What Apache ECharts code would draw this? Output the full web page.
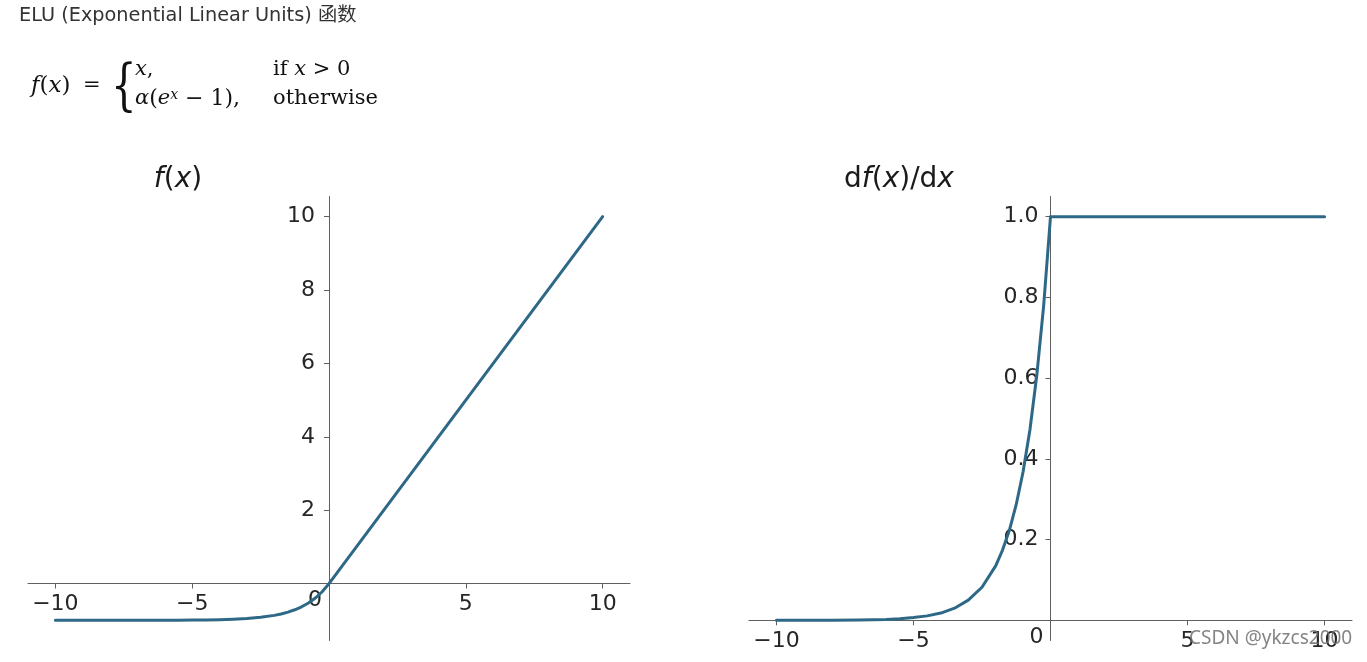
<!DOCTYPE html>
<html>
<head>
<meta charset="utf-8">
<script src="https://cdn.jsdelivr.net/npm/echarts@6/dist/echarts.min.js"></script>
<style>
html,body{margin:0;padding:0;background:#fff;}
#c{width:1367px;height:662px;}
</style>
</head>
<body>
<div id="c"></div>
<script>
// ---- data ----
const headerText = 'ELU (Exponential Linear Units) 函数';
const watermark = 'CSDN @ykzcs2000';
const xs = [-10, -9, -8, -7, -6, -5.5, -5, -4.5, -4, -3.5, -3, -2.5, -2, -1.75, -1.5, -1.25, -1, -0.75, -0.5, -0.25, 0, 10];
const fVals = [-1, -1, -1, -1, -0.998, -0.996, -0.993, -0.989, -0.982, -0.97, -0.95, -0.918, -0.865, -0.826, -0.777, -0.713, -0.632, -0.528, -0.393, -0.221, 0, 10];
const dfVals = [0, 0, 0, 0.001, 0.002, 0.004, 0.007, 0.011, 0.018, 0.03, 0.05, 0.082, 0.135, 0.174, 0.223, 0.287, 0.368, 0.472, 0.607, 0.779, 1, 1];
const xTicks = [-10, -5, 0, 5, 10];
const fTicks = [2, 4, 6, 8, 10];
const dfTicks = [0.2, 0.4, 0.6, 0.8, 1.0];

const LINE = '#2d6987';
const AX = '#606060';
const LBL = '#262626';
const SANS = 'DejaVu Sans';
const SERIF = 'DejaVu Serif';

function minus(v, d) {
  const s = d == null ? String(Math.abs(v)) : Math.abs(v).toFixed(d);
  return v < 0 ? '\u2212' + s : s;
}

function xAxisCfg(idx, offset) {
  return {
    type: 'value', gridIndex: idx, min: -11, max: 11, position: 'bottom', offset: offset,
    splitLine: {show: false},
    axisLine: {onZero: false, lineStyle: {color: AX, width: 1}},
    axisTick: {customValues: xTicks, length: 5, lineStyle: {color: AX}},
    axisLabel: {
      customValues: xTicks, margin: 10, fontFamily: SANS, fontSize: 22, color: LBL,
      formatter: v => v === 0 ? '{z|0}' : minus(v),
      rich: {z: {fontFamily: SANS, fontSize: 22, color: LBL, padding: [0, 28, 0, 0], lineHeight: 14}}
    }
  };
}
function yAxisCfg(idx, min, max, ticks, dec, margin, offset) {
  return {
    type: 'value', gridIndex: idx, min: min, max: max, position: 'left', offset: offset,
    splitLine: {show: false},
    axisLine: {onZero: false, lineStyle: {color: AX, width: 1}},
    axisTick: {customValues: ticks, length: 5, lineStyle: {color: AX}},
    axisLabel: {
      customValues: ticks, margin: margin, fontFamily: SANS, fontSize: 22, color: LBL,
      formatter: v => minus(v, dec)
    }
  };
}

const chart = echarts.init(document.getElementById('c'), null, {renderer: 'canvas'});

const ital = {fontFamily: SERIF, fontStyle: 'italic', fontSize: 21, fill: '#111'};
const italBig = {fontFamily: SERIF, fontStyle: 'italic', fontSize: 23, fill: '#111'};
const up = {fontFamily: SERIF, fontSize: 21, fill: '#111'};
const upBig = {fontFamily: SERIF, fontSize: 23, fill: '#111'};
const tIt = {fontFamily: SANS, fontStyle: 'italic', fontSize: 28, fill: '#1a1a1a'};
const tUp = {fontFamily: SANS, fontSize: 28, fill: '#1a1a1a'};

chart.setOption({
  animation: false,
  backgroundColor: '#fff',
  grid: [
    {left: 28, top: 196.5, width: 602, height: 444, containLabel: false, outerBoundsMode: 'none'},
    {left: 749, top: 196.5, width: 603, height: 444, containLabel: false, outerBoundsMode: 'none'}
  ],
  xAxis: [xAxisCfg(0, -57), xAxisCfg(1, -20.2)],
  yAxis: [
    yAxisCfg(0, -1.55, 10.55, fTicks, null, 14, -301),
    yAxisCfg(1, -0.05, 1.05, dfTicks, 1, 12, -301.5)
  ],
  series: [
    {type: 'line', xAxisIndex: 0, yAxisIndex: 0, showSymbol: false, silent: true,
     data: xs.map((x, i) => [x, fVals[i]]), lineStyle: {color: LINE, width: 3, join: 'round', cap: 'round'}},
    {type: 'line', xAxisIndex: 1, yAxisIndex: 1, showSymbol: false, silent: true,
     data: xs.map((x, i) => [x, dfVals[i]]), lineStyle: {color: LINE, width: 3, join: 'round', cap: 'round'}}
  ],
  graphic: [
    {type: 'text', x: 19, y: 16, style: {text: headerText, fontFamily: SANS + ', Noto Sans CJK SC', fontSize: 19.3, fill: '#333', verticalAlign: 'middle', textVerticalAlign: 'middle'}},
    // formula
    {type: 'text', x: 31, y: 86, style: {text: '{i|f}{u|(}{i|x}{u|)}', rich: {i: italBig, u: upBig}, verticalAlign: 'middle', textVerticalAlign: 'middle'}},
    {type: 'text', x: 83, y: 86, style: {text: '=', font: '21px "DejaVu Serif"', fill: '#111', verticalAlign: 'middle', textVerticalAlign: 'middle'}},
    {type: 'text', x: 111, y: 89, scaleX: 0.72, style: {text: '{', font: '56px "DejaVu Serif"', fill: '#111', verticalAlign: 'middle', textVerticalAlign: 'middle'}},
    {type: 'text', x: 135, y: 70, style: {text: '{i|x}{u|,}', rich: {i: ital, u: up}, verticalAlign: 'middle', textVerticalAlign: 'middle'}},
    {type: 'text', x: 273, y: 70, style: {text: '{u|if }{i|x}{u| > 0}', rich: {i: ital, u: up}, verticalAlign: 'middle', textVerticalAlign: 'middle'}},
    {type: 'text', x: 135, y: 99, style: {text: '{i|α}{u|(}{i|e}{s|x}{u| \u2212 1),}', rich: {i: ital, u: {fontFamily: SERIF, fontSize: 22, fill: '#111'}, s: {fontFamily: SERIF, fontStyle: 'italic', fontSize: 14, fill: '#111', verticalAlign: 'top'}}, verticalAlign: 'middle', textVerticalAlign: 'middle'}},
    {type: 'text', x: 273, y: 99, style: {text: 'otherwise', font: '21px "DejaVu Serif"', fill: '#111', verticalAlign: 'middle', textVerticalAlign: 'middle'}},
    // subplot titles
    {type: 'text', x: 178, y: 180, style: {text: '{i|f}{u|(}{i|x}{u|)}', rich: {i: tIt, u: tUp}, align: 'center', textAlign: 'center', verticalAlign: 'middle', textVerticalAlign: 'middle'}},
    {type: 'text', x: 899, y: 180, style: {text: '{u|d}{i|f}{u|(}{i|x}{u|)/d}{i|x}', rich: {i: tIt, u: tUp}, align: 'center', textAlign: 'center', verticalAlign: 'middle', textVerticalAlign: 'middle'}},
    // watermark
    {type: 'text', x: 1189, y: 639, z: 100, style: {text: watermark, fontFamily: 'Noto Sans, DejaVu Sans', fontSize: 19, fill: 'rgba(110,110,110,0.85)', verticalAlign: 'middle', textVerticalAlign: 'middle'}}
  ]
});
</script>
</body>
</html>
